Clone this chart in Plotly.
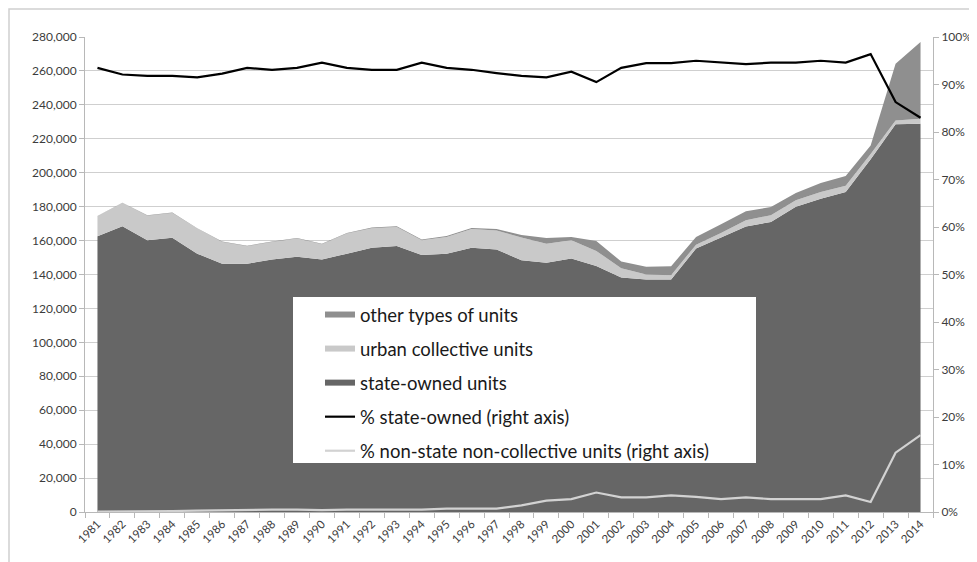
import plotly.graph_objects as go

years = [str(y) for y in range(1981, 2015)]

# thousands of persons, cumulative tops converted to layers
state_owned = [162.5, 168.4, 160.2, 161.6, 152.3, 146.4, 146.4, 148.8, 150.4, 148.8,
               152.3, 155.7, 156.8, 151.5, 152.3, 155.7, 154.7, 148.4, 147.0, 149.4,
               145.0, 138.3, 137.0, 137.0, 155.3, 161.8, 168.3, 171.0, 180.0, 184.7,
               188.6, 208.0, 228.5, 228.9]
urban_collective = [11.8, 13.7, 14.5, 14.7, 14.8, 12.8, 10.3, 10.4, 10.8, 9.0,
                    11.8, 11.5, 11.2, 8.7, 9.8, 11.1, 11.3, 13.4, 11.2, 10.8,
                    8.9, 5.4, 3.0, 2.6, 2.3, 2.7, 3.7, 4.0, 3.7, 3.9,
                    3.7, 3.0, 2.3, 2.9]
other_units = [0.2, 0.2, 0.2, 0.2, 0.2, 0.3, 0.3, 0.3, 0.3, 0.4,
               0.4, 0.5, 0.5, 0.5, 0.6, 0.6, 0.8, 1.5, 3.3, 1.9,
               5.9, 3.9, 4.5, 5.3, 4.5, 5.1, 5.3, 4.8, 4.4, 5.3,
               5.7, 5.0, 33.4, 45.2]
pct_state = [93.5, 92.1, 91.8, 91.8, 91.5, 92.3, 93.5, 93.1, 93.5, 94.6,
             93.5, 93.1, 93.1, 94.6, 93.5, 93.1, 92.4, 91.8, 91.5, 92.7,
             90.5, 93.5, 94.5, 94.5, 95.0, 94.6, 94.3, 94.6, 94.6, 95.0,
             94.6, 96.4, 86.3, 83.0]
pct_nonstate = [0.1, 0.1, 0.1, 0.2, 0.3, 0.4, 0.4, 0.5, 0.5, 0.4,
                0.5, 0.5, 0.5, 0.5, 0.7, 0.7, 0.7, 1.4, 2.4, 2.7,
                4.1, 3.1, 3.1, 3.5, 3.2, 2.7, 3.1, 2.7, 2.7, 2.7,
                3.5, 2.1, 12.5, 16.2]

left_ticks = list(range(0, 280001, 20000))
right_ticks = list(range(0, 101, 10))
right_text = [f"{v}%" for v in right_ticks]

FONT = "Lato, 'Open Sans', sans-serif"
TXT = "#3c3c3c"
GRID = "#cfcfcf"
AX = "#b8b8b8"

fig = go.Figure()

fig.add_trace(go.Scatter(
    x=years, y=[v * 1000 for v in state_owned], name="state-owned units",
    stackgroup="s", mode="none", fillcolor="#666666",
    legendgroup="c", legendrank=3))
fig.add_trace(go.Scatter(
    x=years, y=[v * 1000 for v in urban_collective], name="urban collective units",
    stackgroup="s", mode="none", fillcolor="#c9c9c9",
    legendgroup="b", legendrank=2))
fig.add_trace(go.Scatter(
    x=years, y=[v * 1000 for v in other_units], name="other types of units",
    stackgroup="s", mode="none", fillcolor="#8f8f8f",
    legendgroup="a", legendrank=1))
fig.add_trace(go.Scatter(
    x=years, y=pct_state, name="% state-owned (right axis)", yaxis="y2",
    mode="lines", line=dict(color="#000000", width=2.2),
    legendgroup="d", legendrank=4))
fig.add_trace(go.Scatter(
    x=years, y=pct_nonstate, name="% non-state non-collective units (right axis)", yaxis="y2",
    mode="lines", line=dict(color="#d2d2d2", width=2.2),
    legendgroup="e", legendrank=5))

# the page body adds an 8px offset; plot area sits at window x 85..933, y 37..512
fig.update_layout(
    template="none",
    width=977, height=562,
    margin=dict(l=77, r=52, t=29, b=58, pad=0),
    paper_bgcolor="white", plot_bgcolor="white",
    font=dict(family=FONT, color=TXT, size=12),
    xaxis=dict(type="category", tickson="boundaries", ticks="outside", ticklen=5,
               tickcolor=AX, tickangle=-45, showline=True, linecolor=AX,
               linewidth=1, showgrid=False, zeroline=False, automargin=False,
               tickfont=dict(size=11.5, family=FONT, color=TXT),
               range=[-0.5, 33.5]),
    yaxis=dict(range=[0, 280000], tickvals=left_ticks, tickformat=",", ticks="outside",
               ticklen=5, tickcolor=AX, showline=True, linecolor=AX, automargin=False,
               showgrid=True, gridcolor=GRID, gridwidth=1.3, zeroline=False,
               tickfont=dict(size=12, family=FONT, color=TXT)),
    yaxis2=dict(range=[0, 100], tickmode="array", tickvals=right_ticks, ticktext=right_text,
                overlaying="y", side="right", ticks="outside", ticklen=5, tickcolor=AX,
                showline=True, linecolor=AX, showgrid=False, zeroline=False, automargin=False,
                tickfont=dict(size=12, family=FONT, color=TXT)),
    legend=dict(x=(320 - 85) / 848, y=(512 - 296) / 475, xanchor="left", yanchor="top",
                bgcolor="rgba(0,0,0,0)", traceorder="grouped", tracegroupgap=7,
                itemwidth=30, font=dict(size=18.5, family=FONT, color="#1a1a1a")),
    showlegend=True,
)

# white legend box and outer frame
fig.add_shape(type="rect", xref="paper", yref="paper",
              x0=(293 - 85) / 848, x1=(756 - 85) / 848,
              y0=(512 - 463) / 475, y1=(512 - 297) / 475,
              fillcolor="white", line=dict(width=0), layer="above")
fig.add_shape(type="path", xref="paper", yref="paper",
              path="M {a},{b} L {a},{c} L {d},{c}".format(
                  a=(9 - 85) / 848, b=(512 - 580) / 475, c=(512 - 9) / 475, d=(1000 - 85) / 848),
              line=dict(color="#d0d0d0", width=1.5), layer="below")

fig.write_html("out.html")
